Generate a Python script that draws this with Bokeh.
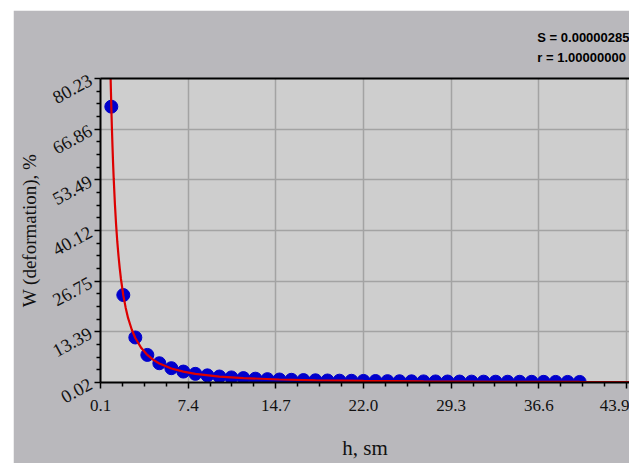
from bokeh.plotting import figure
from bokeh.models import FixedTicker, LinearAxis, Range1d
from bokeh.embed import file_html
from bokeh.resources import INLINE

# ---- data ----
h = list(range(1, 41))
w = [72.8, 23.1, 11.9, 7.3, 5.1, 3.8, 2.9, 2.3, 1.9, 1.6,
     1.36, 1.18, 1.03, 0.91, 0.81, 0.73, 0.66, 0.60, 0.55, 0.50,
     0.47, 0.44, 0.41, 0.38, 0.35, 0.33, 0.31, 0.30, 0.28, 0.27,
     0.25, 0.24, 0.23, 0.22, 0.21, 0.20, 0.19, 0.18, 0.18, 0.17]

# fitted curve
h_fit = [0.94, 0.97, 1.0, 1.05, 1.1, 1.15, 1.2, 1.3, 1.4, 1.5, 1.6, 1.7, 1.8,
         2.0, 2.2, 2.4, 2.7, 3.0, 3.5, 4.0, 4.5, 5.0, 6.0, 7.0, 8.0, 10.0,
         12.0, 15.0, 18.0, 22.0, 27.0, 33.0, 40.0, 46.0]
w_fit = [80.7, 76.6, 72.8, 67.1, 62.2, 57.7, 53.8, 47.1, 41.6, 37.1, 33.4, 30.2, 27.4,
         23.0, 19.7, 17.0, 14.0, 11.75, 9.1, 7.3, 6.0, 5.03, 3.72, 2.88, 2.31, 1.59,
         1.18, 0.81, 0.60, 0.43, 0.31, 0.22, 0.16, 0.13]

x_ticks = [0.1, 7.4, 14.7, 22.0, 29.3, 36.6, 43.9]
x_tick_labels = ["0.1", "7.4", "14.7", "22.0", "29.3", "36.6", "43.9"]
y_ticks = [0.02, 13.39, 26.75, 40.12, 53.49, 66.86, 80.23]
y_tick_labels = ["0.02", "13.39", "26.75", "40.12", "53.49", "66.86", "80.23"]

stat_s = "S = 0.00000285"
stat_r = "r = 1.00000000"


def minors(ticks, extra_end=True):
    out = []
    for a, b in zip(ticks[:-1], ticks[1:]):
        out += [a + (b - a) * k / 4 for k in (1, 2, 3)]
    if extra_end:
        a, b = ticks[-2], ticks[-1]
        out += [b + (b - a) * k / 4 for k in (1, 2, 3)]
    return out


BG = "#b9b8bc"
PLOT_BG = "#cecece"
SERIF = "Liberation Serif"
TXT = "#111111"

p = figure(width=616, height=453, output_backend="svg", toolbar_location=None,
           x_range=Range1d(0.1, 44.15), y_range=Range1d(y_ticks[0], y_ticks[-1]),
           background_fill_color=PLOT_BG, border_fill_color=BG,
           min_border_left=87, min_border_top=68, min_border_bottom=81,
           min_border_right=0, outline_line_color=None)
p.margin = (10, 0, 0, 13)

xa = p.xaxis[0]
ya = p.yaxis[0]
xa.ticker = FixedTicker(ticks=x_ticks, minor_ticks=minors(x_ticks))
xa.major_label_overrides = {t: s for t, s in zip(x_ticks, x_tick_labels)}
ya.ticker = FixedTicker(ticks=y_ticks, minor_ticks=minors(y_ticks, False))
ya.major_label_overrides = {t: s for t, s in zip(y_ticks, y_tick_labels)}

for ax in (xa, ya):
    ax.axis_line_color = "black"
    ax.axis_line_width = 2
    ax.major_tick_line_color = "black"
    ax.minor_tick_line_color = "black"
    ax.major_tick_line_width = 1.5
    ax.minor_tick_line_width = 1.5
    ax.major_tick_out = 6
    ax.major_tick_in = 0
    ax.minor_tick_out = 4
    ax.minor_tick_in = 0
    ax.major_label_text_font = SERIF
    ax.major_label_text_color = TXT
    ax.axis_label_text_font = SERIF
    ax.axis_label_text_font_style = "normal"
    ax.axis_label_text_color = TXT

xa.axis_label = "h, sm"
xa.major_label_text_font_size = "17px"
xa.axis_label_text_font_size = "21px"
xa.major_label_standoff = 11
xa.axis_label_standoff = 22

ya.axis_label = "W (deformation), %"
ya.major_label_text_font_size = "18.5px"
ya.axis_label_text_font_size = "19px"
ya.major_label_orientation = 0.5
ya.major_label_text_baseline = "top"
ya.major_label_standoff = 4
ya.axis_label_standoff = 5

top = LinearAxis(major_tick_line_color=None, minor_tick_line_color=None,
                 axis_line_color="black", axis_line_width=2,
                 major_tick_out=0, minor_tick_out=0,
                 major_label_standoff=0, axis_label_standoff=0)
top.ticker = FixedTicker(ticks=[])
p.add_layout(top, "above")

# fit statistics, two right-aligned lines in the top band
p.title.text = stat_s + "\n" + stat_r
p.title.align = "right"
p.title.text_font = "Liberation Sans"
p.title.text_font_size = "13px"
p.title.text_font_style = "bold"
p.title.text_color = "black"
p.title.text_line_height = 1.36
p.title.standoff = 26

p.grid.grid_line_color = "#a3a3a3"
p.grid.grid_line_width = 1.5
p.xgrid.ticker = FixedTicker(ticks=x_ticks)
p.ygrid.ticker = FixedTicker(ticks=y_ticks)

p.scatter(h, w, size=13, fill_color="#0000cc", line_color="#0000cc")
p.line(h_fit, w_fit, line_color="#dd0000", line_width=2.2)

open("out.html", "w").write(file_html(p, INLINE))
